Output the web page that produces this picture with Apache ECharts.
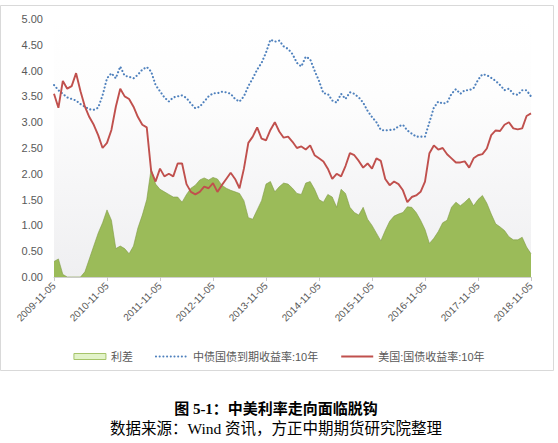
<!DOCTYPE html>
<html>
<head>
<meta charset="utf-8">
<script src="https://cdn.jsdelivr.net/npm/echarts@6/dist/echarts.min.js"></script>
<style>
html,body{margin:0;padding:0;background:#fff;}
#c{width:558px;height:443px;}
</style>
</head>
<body>
<div id="c"></div>
<script>
// Monthly samples starting 2009-11-05, ending 2018-11-05
const startYear = 2009, startMonth = 11, nMonths = 109;
const yTicks = ['0.00','0.50','1.00','1.50','2.00','2.50','3.00','3.50','4.00','4.50','5.00'];

// 中债国债到期收益率:10年
const cnYield = [
3.72,3.62,3.55,3.48,3.45,3.42,3.35,3.30,3.25,3.24,3.28,3.52,
3.85,3.95,3.85,4.08,3.90,3.88,3.85,3.92,4.02,4.07,3.98,3.72,
3.60,3.48,3.40,3.48,3.50,3.52,3.47,3.36,3.27,3.30,3.40,3.50,
3.56,3.56,3.59,3.58,3.55,3.45,3.40,3.50,3.70,3.85,4.02,4.15,
4.35,4.60,4.56,4.58,4.47,4.42,4.32,4.15,4.08,4.27,4.22,4.00,
3.80,3.56,3.55,3.42,3.38,3.55,3.45,3.58,3.55,3.48,3.38,3.22,
3.10,3.00,2.85,2.84,2.85,2.86,2.92,2.95,2.84,2.78,2.72,2.72,
2.72,3.00,3.28,3.40,3.36,3.38,3.55,3.64,3.55,3.62,3.62,3.66,
3.82,3.93,3.91,3.86,3.80,3.72,3.62,3.65,3.55,3.53,3.62,3.62,
3.50];

// 美国:国债收益率:10年
const usYield = [
3.55,3.28,3.80,3.65,3.70,3.95,3.60,3.30,3.10,2.95,2.75,2.50,
2.60,2.85,3.30,3.65,3.50,3.45,3.30,3.10,2.95,2.90,2.05,1.85,
2.10,1.95,2.00,1.95,2.20,2.20,1.80,1.65,1.60,1.65,1.75,1.72,
1.82,1.65,1.78,1.90,2.02,1.90,1.72,2.10,2.60,2.72,2.90,2.68,
2.65,2.85,3.00,2.82,2.70,2.72,2.62,2.50,2.53,2.47,2.55,2.36,
2.30,2.24,2.10,1.90,2.00,1.95,2.15,2.40,2.36,2.25,2.12,2.20,
2.10,2.30,2.25,1.90,1.78,1.85,1.80,1.68,1.45,1.55,1.58,1.65,
1.85,2.40,2.55,2.47,2.50,2.38,2.30,2.22,2.22,2.24,2.12,2.30,
2.36,2.38,2.49,2.75,2.84,2.83,2.95,3.00,2.88,2.86,2.88,3.12,
3.17];

// 利差
const spread = [
0.30,0.35,0.05,0.00,0.00,0.00,0.00,0.10,0.35,0.60,0.85,1.05,
1.30,1.10,0.55,0.60,0.55,0.45,0.60,0.95,1.20,1.50,2.10,1.80,
1.70,1.65,1.60,1.55,1.55,1.45,1.60,1.72,1.78,1.88,1.92,1.88,
1.93,1.90,1.78,1.72,1.68,1.65,1.62,1.48,1.15,1.12,1.30,1.48,
1.80,1.85,1.65,1.75,1.82,1.80,1.72,1.62,1.60,1.82,1.85,1.70,
1.50,1.45,1.60,1.55,1.35,1.70,1.62,1.35,1.25,1.20,1.35,1.12,
1.00,0.85,0.70,0.90,1.08,1.18,1.22,1.25,1.36,1.35,1.25,1.10,
0.92,0.65,0.75,0.88,1.05,1.10,1.35,1.45,1.38,1.45,1.53,1.38,
1.50,1.58,1.43,1.22,1.03,0.97,0.90,0.78,0.72,0.72,0.77,0.58,
0.45];

const categories = [];
for (let i = 0; i < nMonths; i++) {
  const m0 = startMonth - 1 + i;
  const y = startYear + Math.floor(m0 / 12);
  const m = (m0 % 12) + 1;
  categories.push(y + '-' + (m < 10 ? '0' + m : m) + '-05');
}

const chart = echarts.init(document.getElementById('c'), null, {renderer: 'svg'});
const labelColor = '#595959';
const sansFont = 'Liberation Sans, Noto Sans CJK SC, sans-serif';
const serifFont = 'Liberation Serif, Noto Sans CJK SC, serif';

chart.setOption({
  animation: false,
  backgroundColor: '#ffffff',
  grid: {
    left: 54, right: 27, top: 19, bottom: 166, containLabel: false,
    show: true, borderWidth: 0,
    backgroundColor: {
      type: 'linear', x: 0, y: 0, x2: 0, y2: 1,
      colorStops: [
        {offset: 0, color: '#ffffff'},
        {offset: 0.3, color: '#fdfdfd'},
        {offset: 1, color: '#efeff1'}
      ]
    }
  },
  legend: {
    left: 'center', top: 346,
    itemWidth: 32, itemHeight: 6, itemGap: 22,
    textStyle: {color: labelColor, fontSize: 11, fontFamily: sansFont},
    data: [
      {name: '利差', icon: 'rect', itemStyle: {color: '#e2f3c9', borderColor: '#a6c46a', borderWidth: 1}},
      {name: '中债国债到期收益率:10年', itemStyle: {opacity: 0}},
      {name: '美国:国债收益率:10年', itemStyle: {opacity: 0}}
    ]
  },
  xAxis: {
    type: 'category',
    data: categories,
    boundaryGap: false,
    axisLine: {lineStyle: {color: '#d0d0d0', width: 1}},
    axisTick: {show: true, interval: 11, length: 4, lineStyle: {color: '#c8c8c8'}},
    axisLabel: {interval: 11, rotate: 45, color: labelColor, fontSize: 10, fontFamily: sansFont, margin: 7},
    splitLine: {show: false}
  },
  yAxis: {
    type: 'value',
    min: 0, max: 5, interval: 0.5,
    axisLine: {show: false},
    axisTick: {show: false},
    splitLine: {show: false},
    axisLabel: {
      color: labelColor, fontSize: 11, fontFamily: sansFont, margin: 11,
      formatter: function (v) { return yTicks[Math.round(v / 0.5)]; }
    }
  },
  series: [
    {
      name: '利差', type: 'line', data: spread,
      showSymbol: false, symbol: 'none',
      lineStyle: {color: '#7f9a45', width: 0.6},
      itemStyle: {color: '#9bbb59'},
      areaStyle: {color: '#9bbb59', opacity: 1},
      z: 1
    },
    {
      name: '中债国债到期收益率:10年', type: 'line', data: cnYield,
      showSymbol: false, symbol: 'none',
      lineStyle: {color: '#4f81bd', width: 2.1, type: [0.1, 3.6], cap: 'round'},
      itemStyle: {color: '#4f81bd'},
      z: 2
    },
    {
      name: '美国:国债收益率:10年', type: 'line', data: usYield,
      showSymbol: false, symbol: 'none',
      lineStyle: {color: '#c0504d', width: 1.9},
      itemStyle: {color: '#c0504d'},
      z: 3
    }
  ],
  graphic: [
    {
      type: 'rect', silent: true, z: -1,
      shape: {x: 0.5, y: 5.5, width: 553, height: 365},
      style: {fill: 'none', stroke: '#d9d9d9', lineWidth: 1}
    },
    {
      type: 'text', x: 276, y: 409,
      style: {
        text: '图 5-1：中美利率走向面临脱钩',
        align: 'center', verticalAlign: 'middle',
        fill: '#000', fontSize: 15, fontWeight: 'bold',
        fontFamily: serifFont
      }
    },
    {
      type: 'text', x: 276, y: 428,
      style: {
        text: '数据来源：Wind 资讯，方正中期期货研究院整理',
        align: 'center', verticalAlign: 'middle',
        fill: '#000', fontSize: 15.5,
        fontFamily: serifFont
      }
    }
  ]
});
</script>
</body>
</html>
